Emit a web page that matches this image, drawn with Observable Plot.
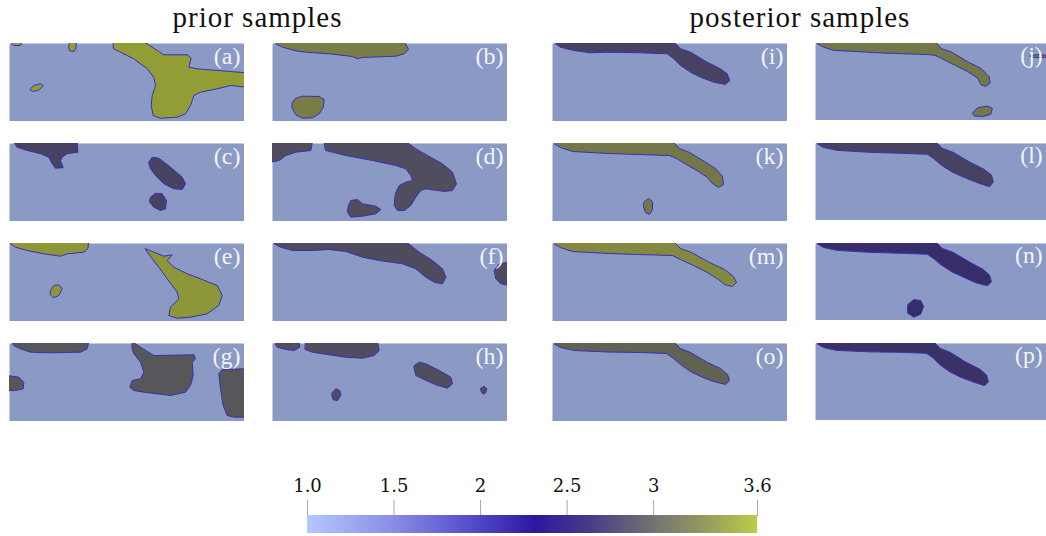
<!DOCTYPE html>
<html>
<head>
<meta charset="utf-8">
<script src="https://cdn.jsdelivr.net/npm/d3@7"></script>
<script src="https://cdn.jsdelivr.net/npm/@observablehq/plot@0.6"></script>
<style>
  body { margin: 0; background: #fff; }
  #fig { position: relative; width: 1046px; height: 536px; overflow: hidden; font-family: "Liberation Serif", serif; }
  .panel { position: absolute; line-height: 0; }
  .title { position: absolute; font-size: 29px; line-height: 29px; letter-spacing: 1px; color: #111; white-space: nowrap; transform: translateX(-50%); }
  .cbar { position: absolute; }
  .cbar g[aria-label="x-axis tick"], .cbar .tick line { stroke: #a8a8a8; }
</style>
</head>
<body>
<div id="fig"></div>
<script>
// Value of the facies in each sample (same order as panel letters a..p)
const panelLetters = ["a","b","c","d","e","f","g","h","i","j","k","l","m","n","o","p"];
const panelValues  = [3.6, 3.35, 2.8, 2.9, 3.55, 2.88, 2.98, 2.9, 2.8, 3.3, 3.3, 2.8, 3.45, 2.62, 3.1, 2.66];
const backgroundValue = 1.0;

// Colour map stops (value -> colour)
const stopValues = [1.0, 1.5, 2.0, 2.32, 2.65, 3.0, 3.3, 3.6];
const stopColors = ["#b4c8ff", "#8a8de6", "#5045c6", "#2c189f", "#4a3f86", "#737275", "#979b5f", "#bdcc46"];

// Colour bar ticks
const tickValues = [1.0, 1.5, 2.0, 2.5, 3.0, 3.6];
const tickLabels = ["1.0", "1.5", "2", "2.5", "3", "3.6"];

// Channel outlines per sample, in cell units (235 x 78 grid, y downward)
const shapesA = [
  [[104,-2],[134,-2],[154.3,11.3],[177.7,11.3],[181.7,14.7],[179.3,23.7],[187.7,25.3],[221,28],[237,29.3],[237,43.7],[221,42],[207.7,45.3],[191,48.7],[184.3,52],[181,62],[176,70.3],[167.7,73.7],[151,74.7],[143.7,72],[141.7,62],[142.7,52],[146,42],[144.3,33.7],[137.7,25.3],[124.3,15.3],[111,8.7],[104.3,5.3]],
  [[1,-2],[12.7,-2],[11,2],[4.3,2]],
  [[60.3,-2],[67,-2],[66.3,5.3],[64.3,8],[60.3,7.3],[59.3,4.7]],
  [[21,45.3],[24.3,42],[31,40.3],[33.7,42],[30.3,46],[24.3,48],[21.7,47.3]]
];
const shapesB = [
  [[3.3,-2],[131.7,-2],[136,6],[131.7,10.3],[123.3,12.7],[90,14],[85,15.3],[80,13],[56.7,10.3],[33.3,8.7],[23.3,7.3],[10,3.7],[3.3,0.3]],
  [[20,58.7],[23.3,54.7],[30,52.7],[46.7,53],[51.7,56],[50.7,63.7],[46.7,70.3],[40,74.3],[30,74.7],[23.3,71.3],[19.3,63.7]]
];
const shapesC = [
  [[4.3,-2],[67.7,-2],[68.3,8.7],[57.7,10.3],[52.7,13.7],[51,17],[53.7,24.3],[46,24.7],[42.7,20.3],[39.3,13.7],[31,10.3],[17.7,7],[7.7,3.7]],
  [[139.3,18.7],[142.7,13.7],[149.3,14.7],[161,23.7],[172.7,33.7],[176,40.3],[172.7,46],[164.3,45.3],[154.3,40.3],[146,32],[141,25.3]],
  [[141,53.7],[146,49.7],[152.7,50.3],[157,57],[156,65.3],[151,67],[144.3,63.7],[140.3,58.7]]
];
const shapesD = [
  [[-2,-2],[40,-2],[38.3,7],[23.3,8.7],[13.3,12],[6.7,17],[-2,18.7]],
  [[51.7,-2],[133.3,-2],[143.3,5.3],[155,12],[170,20.3],[180,28.7],[184,40.3],[180,47],[171.7,48],[153.3,45.3],[148.3,47],[143.3,53.7],[138.3,62],[131.7,67],[125,67],[121.7,62],[122.7,50.3],[126.7,42],[133.3,38.7],[140,37],[138.3,32],[133.3,25.3],[123.3,22],[100,17],[73.3,12],[53.3,7]],
  [[76,62],[78.3,57],[85,56],[90,60.3],[103.3,62.7],[108.3,66],[103.3,70.3],[90,72.7],[78.3,73.7],[75,68.7]]
];
const shapesE = [
  [[1,-2],[79.3,-2],[78.3,5.3],[74.3,8.7],[57.7,10.3],[51,12.7],[34.3,10.3],[17.7,7],[6,3.7],[1,0.3]],
  [[41,47],[44.3,42],[49.3,41.3],[52.7,45.3],[49.3,52],[43.7,54.3],[41,51.3]],
  [[136,5.3],[144.3,8.7],[154.3,12.7],[162.7,11.3],[157.7,17],[164.3,23.7],[177.7,30.3],[191,35.3],[207.7,42],[212.7,52],[209.3,62],[197.7,70.3],[181,73.7],[167.7,74.7],[159.3,72],[161,63.7],[169.3,55.3],[167.7,48.7],[157.7,35.3],[149.3,23.7],[142.7,15.3]]
];
const shapesF = [
  [[1.7,-2],[133.3,-2],[146.7,8.7],[160,17],[170,25.3],[173.3,33.7],[170,40.3],[161.7,38.7],[153.3,33.7],[143.3,25.3],[130,20.3],[106.7,17],[90,13.7],[73.3,8],[56.7,6],[40,7],[20,7],[8.3,3.7],[1.7,0.3]],
  [[237,18.7],[226.7,20.3],[221.7,27],[223.3,35.3],[228.3,40.3],[237,42]]
];
const shapesG = [
  [[2.7,-2],[79.3,-2],[77.7,5.3],[71,8.7],[41,9.3],[21,8.7],[11,5.3],[4.3,2]],
  [[-2,32],[9.3,33.7],[14.3,38.7],[13.7,45.3],[6,47],[-2,47]],
  [[122.7,-2],[131,3.7],[144.3,12],[184.3,11.3],[186,15.3],[182.7,18.7],[183.7,32],[181,42],[176,48.7],[161,52],[147.7,50.3],[134.3,48.7],[124.3,47],[120.3,43.7],[122.7,37],[131,35.3],[134.3,28.7],[131,18.7],[124.3,10.3],[122.7,5.3]],
  [[237,25.3],[212.7,26],[209.3,30.3],[211,45.3],[213.7,62],[217.7,72],[224.3,73.7],[237,73.7]]
];
const shapesH = [
  [[1.7,-2],[26.7,-2],[27.3,3.7],[21.7,7],[13.3,6],[5,3.7]],
  [[33.3,-2],[105,-2],[106.7,7],[101.7,12],[90,14.7],[73.3,13.7],[56.7,11.3],[40,8.7],[32.7,6]],
  [[141.7,22],[146.7,18.7],[153.3,20.3],[166.7,27],[178.3,33.7],[180,40.3],[175,44.7],[163.3,41.3],[150,35.3],[143.3,32],[141.7,25.3]],
  [[60,48.7],[63.3,45.3],[67.3,47],[68.3,52],[65,57],[60.7,56.3],[59.3,52]],
  [[208.3,44.7],[211.7,42.7],[214.3,45.3],[213.3,49.3],[210.7,50.7],[208.7,48]]
];
const shapesI = [
  [[3,-2],[121.3,-2],[128,5.3],[138,8.7],[154.7,18.7],[168,25.3],[174.7,30.3],[177.3,37],[173,41],[161.3,38.7],[148,33.7],[138,28.7],[128,22],[121.3,15.3],[114.7,10.3],[88,9.3],[54.7,8.7],[38,9.3],[21.3,7],[8,3.7],[3,0.3]]
];
const shapesJ = [
  [[1.7,-2],[121.7,-2],[128.3,5.3],[138.3,8.7],[155,18.7],[168.3,25.3],[176.7,33.7],[177.7,40.3],[173.3,43.7],[168.3,42],[165,35.3],[155,28.7],[141.7,22],[128.3,15.3],[121.7,12],[115,11.3],[85,10.3],[58.3,9.3],[51.7,8.7],[18.3,7],[8.3,3.7],[1.7,0.3]],
  [[160,70.3],[165,65.3],[175,63.7],[180,66],[178.3,72],[170,74.3],[161.7,73.7]],
  [[218.3,12.7],[225,11.3],[237,12],[237,14],[223.3,14.3]]
];
const shapesK = [
  [[2,-2],[120,-2],[127,5],[137,9],[152,18],[163,25],[170,33],[171,41],[166,44],[160,40],[155,34],[146,28],[134,21],[124,15],[117,12],[86,11],[56,10],[20,8],[8,4],[2,0.5]],
  [[92,58],[96,55],[100,58],[100,66],[97,71],[93,69],[91,63]]
];
const shapesL = [
  [[2,-2],[122,-2],[129,5],[140,9],[157,19],[171,26],[179,32],[181,39],[177,44],[165,40],[150,34],[139,29],[128,22],[121,16],[114,11],[88,10],[55,9],[22,7],[8,4],[2,0.5]]
];
const shapesM = [
  [[2,-2],[121,-2],[128,5],[139,9],[157,19],[172,26],[181,33],[184,39],[180,43],[172,41],[166,36],[155,29],[141,22],[128,16],[120,12],[86,11],[56,10],[20,8],[8,4],[2,0.5]]
];
const shapesN = [
  [[2,-2],[122,-2],[129,5],[140,9],[157,19],[170,26],[177,32],[179,39],[175,43],[163,40],[150,34],[139,29],[128,22],[121,16],[114,11],[88,10],[55,9],[22,7],[8,4],[2,0.5]],
  [[94,62],[100,57],[107,58],[110,64],[107,72],[100,75],[94,71]]
];
const shapesO = [
  [[2,-2],[121,-2],[128,5],[138,9],[155,19],[168,25],[175,31],[177,37],[173,41],[161,38],[148,33],[138,28],[128,21],[121,15],[114,10],[88,9],[55,8.5],[22,7],[8,4],[2,0.5]]
];
const shapesP = [
  [[2,-2],[120,-2],[127,5],[137,9],[153,19],[167,26],[174,32],[176,39],[172,43],[160,39],[147,34],[137,29],[127,22],[120,15],[113,10],[87,9],[54,8.5],[21,7],[8,4],[2,0.5]]
];
const panelShapes = [shapesA, shapesB, shapesC, shapesD, shapesE, shapesF, shapesG, shapesH,
                     shapesI, shapesJ, shapesK, shapesL, shapesM, shapesN, shapesO, shapesP];

// Rendered cells are lit, which darkens the map colours a little
const shade = c => { const r = d3.rgb(c); return d3.rgb(r.r * 0.77, r.g * 0.77, r.b * 0.77).formatHex(); };
const shadedColors = stopColors.map(shade);
const cellColor = d3.scaleLinear().domain(stopValues).range(shadedColors).interpolate(d3.interpolateRgb);

const W = 235, H = 78;
const colX = [9, 272, 552, 815];
const rowY = [43, 143, 243, 343];
const fig = document.getElementById("fig");

panelLetters.forEach((letter, i) => {
  const group = i < 8 ? 0 : 1;          // prior | posterior
  const k = i % 8;
  const col = group * 2 + (k % 2);
  const row = Math.floor(k / 2);
  const rows = [];
  panelShapes[i].forEach((poly, j) => {
    poly.forEach(([x, y]) => rows.push({id: j, x, y, v: panelValues[i]}));
  });
  const chart = Plot.plot({
    width: W, height: H, margin: 0,
    x: {domain: [0, W], axis: null},
    y: {domain: [H, 0], axis: null},
    color: {type: "linear", domain: stopValues, range: shadedColors, interpolate: "rgb"},
    style: {background: "transparent"},
    marks: [
      Plot.frame({fill: cellColor(backgroundValue), stroke: "none"}),
      Plot.line(rows, {x: "x", y: "y", z: "id", fill: "v", stroke: "#3a2fae", strokeWidth: 1,
                       curve: "linear-closed", clip: true}),
      Plot.text([`(${letter})`], {frameAnchor: "top-right", text: d => d, dx: -4, dy: 3,
                fill: "#ffffff", fillOpacity: 0.92, fontSize: 24,
                fontFamily: "Liberation Serif, serif", lineAnchor: "top"})
    ]
  });
  const div = document.createElement("div");
  div.className = "panel";
  div.style.left = colX[col] + "px";
  div.style.top = rowY[row] + "px";
  div.appendChild(chart);
  fig.appendChild(div);
});

// Group titles
[["prior samples", 257.5], ["posterior samples", 800]].forEach(([t, cx]) => {
  const d = document.createElement("div");
  d.className = "title";
  d.textContent = t;
  d.style.left = cx + "px";
  d.style.top = "3px";
  fig.appendChild(d);
});

// Colour bar
const step = 0.005;
const samples = d3.range(1.0, 3.6, step);
const labelOf = new Map(tickValues.map((v, i) => [v, tickLabels[i]]));
const bar = Plot.plot({
  width: 510, height: 68,
  marginLeft: 30, marginRight: 30, marginTop: 50, marginBottom: 0,
  x: {domain: [1.0, 3.6], axis: "top", ticks: tickValues, tickSize: 16, tickPadding: 8,
      tickFormat: d => labelOf.get(d), line: false, label: null},
  y: {domain: [0, 1], axis: null},
  color: {type: "linear", domain: stopValues, range: stopColors, interpolate: "rgb"},
  style: {fontSize: "18px", fontFamily: "DejaVu Serif, serif", color: "#111", background: "transparent"},
  marks: [
    Plot.rect(samples, {x1: d => d, x2: d => Math.min(d + 2 * step, 3.6), y1: 0, y2: 1, fill: d => d + step / 2})
  ]
});
const barDiv = document.createElement("div");
barDiv.className = "cbar";
barDiv.style.left = "277px";
barDiv.style.top = "465px";
barDiv.appendChild(bar);
fig.appendChild(barDiv);
</script>
</body>
</html>
